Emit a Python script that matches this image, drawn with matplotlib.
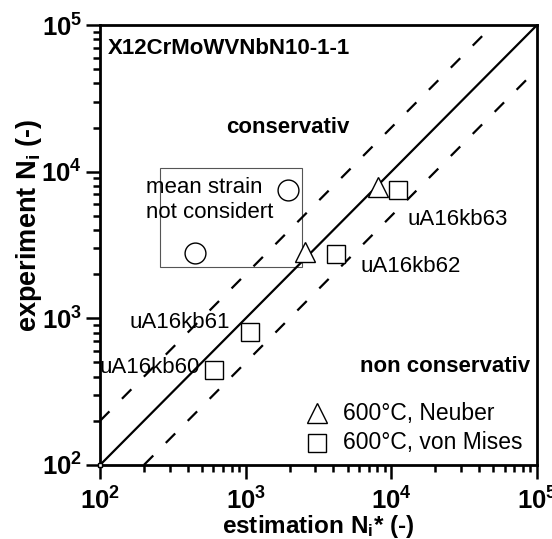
import matplotlib
matplotlib.use("Agg")
import matplotlib.pyplot as plt
import matplotlib.ticker as mticker
import numpy as np

plt.rcParams['font.family'] = ['Liberation Sans', 'DejaVu Sans']
plt.rcParams['mathtext.fontset'] = 'custom'
plt.rcParams['mathtext.rm'] = 'Liberation Sans'
plt.rcParams['mathtext.bf'] = 'Liberation Sans:bold'
plt.rcParams['mathtext.it'] = 'Liberation Sans:italic'

# data
neuber_est = [8100, 2550]
neuber_exp = [7900, 2850]
mises_est = [11100, 4170, 1070, 606]
mises_exp = [7500, 2750, 807, 445]
mises_names = ["uA16kb63", "uA16kb62", "uA16kb61", "uA16kb60"]
circle_est = [1950, 449]
circle_exp = [7500, 2790]
diag = [1e2, 1e5]

fig = plt.figure(figsize=(5.52, 5.39), dpi=100)
ax = fig.add_axes([0.1812, 0.1373, 0.7917, 0.8163])

ax.set_xscale('log')
ax.set_yscale('log')
ax.set_xlim(1e2, 1e5)
ax.set_ylim(1e2, 1e5)

# scatter band lines
d = np.array(diag)
ax.plot(d, d, color='black', lw=1.6, zorder=2)
ax.plot(d, 2 * d, color='black', lw=1.6, dashes=(6, 8), zorder=2)
ax.plot(d, d / 2, color='black', lw=1.6, dashes=(6, 8), zorder=2)

mk = dict(ls='none', mfc='white', mec='black', mew=1.0, zorder=3)
ax.plot(neuber_est, neuber_exp, marker='^', ms=15, **mk)
ax.plot(mises_est, mises_exp, marker='s', ms=13, **mk)
ax.plot(circle_est, circle_exp, marker='o', ms=15, **mk)
ax.plot([1e2], [1e2], marker='s', ms=3.5, clip_on=False, **mk)

# box around points without mean strain
box = plt.Rectangle((258, 2240), 2430 - 258, 10600 - 2240, fill=False,
                    ec='#555555', lw=0.8, zorder=1)
ax.add_patch(box)
ax.text(207, 6400, "mean strain\nnot considert", fontsize=16,
        va='center', ha='left', linespacing=1.2)

# specimen labels
ax.text(13000, 4690, mises_names[0], fontsize=16, ha='left', va='center')
ax.text(6180, 2240, mises_names[1], fontsize=16, ha='left', va='center')
ax.text(780, 931, mises_names[2], fontsize=16, ha='right', va='center')
ax.text(486, 459, mises_names[3], fontsize=16, ha='right', va='center')

ax.text(0.018, 0.947, "X12CrMoWVNbN10-1-1", transform=ax.transAxes,
        fontsize=16, fontweight='bold', ha='left', va='center')
ax.text(0.43, 0.766, "conservativ", transform=ax.transAxes,
        fontsize=16, fontweight='bold', ha='center', va='center')
ax.text(0.984, 0.223, "non conservativ", transform=ax.transAxes,
        fontsize=16, fontweight='bold', ha='right', va='center')

# legend drawn by hand
ax.plot([0.497], [0.118], transform=ax.transAxes, marker='^', ms=15,
        mfc='white', mec='black', mew=1.0, clip_on=False)
ax.plot([0.497], [0.05], transform=ax.transAxes, marker='s', ms=13,
        mfc='white', mec='black', mew=1.0, clip_on=False)
ax.text(0.556, 0.118, "600°C, Neuber", transform=ax.transAxes,
        fontsize=16.5, va='center', ha='left')
ax.text(0.556, 0.05, "600°C, von Mises", transform=ax.transAxes,
        fontsize=16.5, va='center', ha='left')

for s in ax.spines.values():
    s.set_linewidth(2.0)

ax.tick_params(which='both', direction='out', top=False, right=False,
               width=1.8)
ax.tick_params(which='major', length=10, labelsize=18.5)
ax.tick_params(axis='x', which='major', pad=6)
ax.tick_params(axis='y', which='major', pad=3)
ax.tick_params(which='minor', length=5)
ax.xaxis.set_major_locator(mticker.LogLocator(base=10, numticks=10))
ax.yaxis.set_major_locator(mticker.LogLocator(base=10, numticks=10))
ax.xaxis.set_minor_locator(mticker.LogLocator(base=10, subs=np.arange(2, 10), numticks=10))
ax.yaxis.set_minor_locator(mticker.LogLocator(base=10, subs=np.arange(2, 10), numticks=10))
ax.xaxis.set_minor_formatter(mticker.NullFormatter())
ax.yaxis.set_minor_formatter(mticker.NullFormatter())

pow_fmt = mticker.FuncFormatter(
    lambda v, pos: r"$\mathbf{10^{%d}}$" % int(round(np.log10(v))))
ax.xaxis.set_major_formatter(pow_fmt)
ax.yaxis.set_major_formatter(pow_fmt)

ax.set_xlabel(r"estimation N$_\mathbf{i}$* (-)", fontsize=17.5,
              fontweight='bold')
ax.xaxis.set_label_coords(0.5, -0.108)
ax.set_ylabel(r"experiment N$_\mathbf{i}$ (-)", fontsize=19.5,
              fontweight='bold')
ax.yaxis.set_label_coords(-0.128, 0.545)

fig.savefig("out.png", dpi=100)
